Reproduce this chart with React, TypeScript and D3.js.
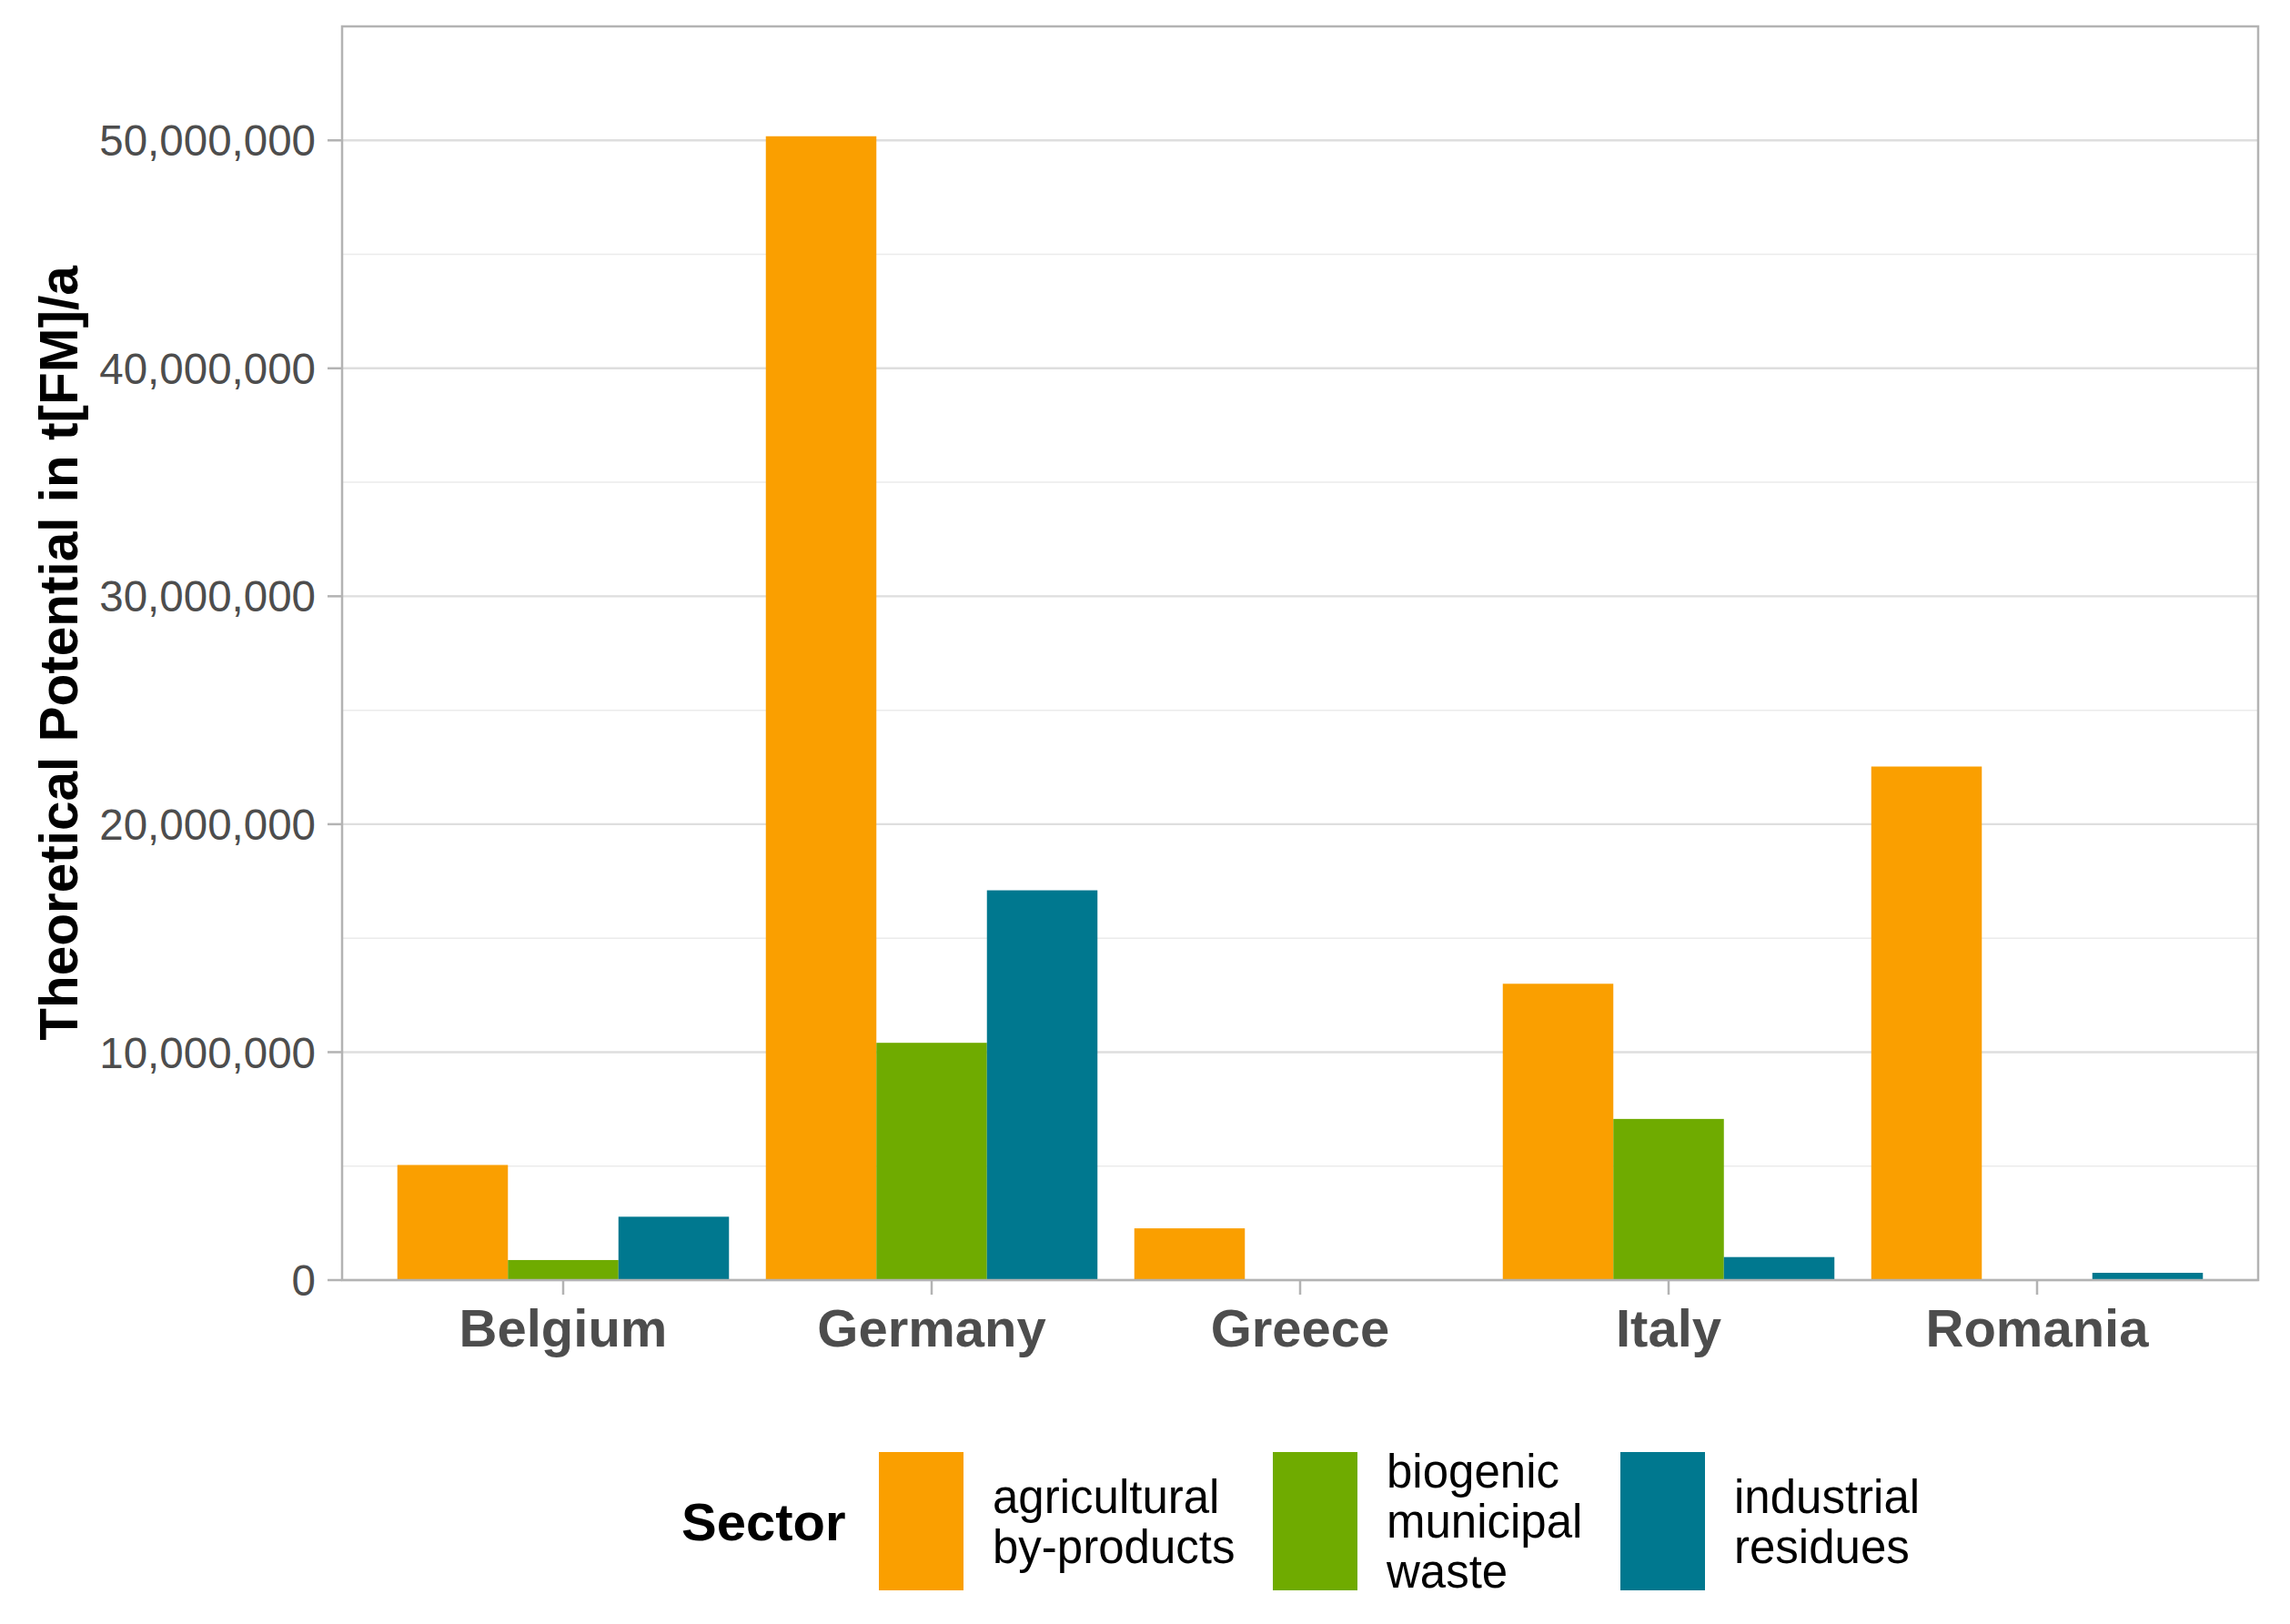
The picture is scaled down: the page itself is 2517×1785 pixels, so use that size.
import { useEffect } from "react"
import * as d3 from "d3"

// data
const countries = ["Belgium", "Germany", "Greece", "Italy", "Romania"]
const sectors = ["agricultural\nby-products", "biogenic\nmunicipal\nwaste", "industrial\nresidues"]
const agricultural = [5.05e6, 50.18e6, 2.27e6, 13.0e6, 22.53e6]
const municipal = [0.88e6, 10.41e6, 0.02e6, 7.07e6, 0]
const industrial = [2.78e6, 17.1e6, 0.02e6, 1.01e6, 0.32e6]
const majorTicks = [0, 10e6, 20e6, 30e6, 40e6, 50e6]
const minorTicks = [5e6, 15e6, 25e6, 35e6, 45e6]
const colors = ["#FA9F00", "#6FAB00", "#00788F"]

const W = 2517
const H = 1785
const FONT = "'Liberation Sans', Arial, Helvetica, sans-serif"

export default function App() {
  useEffect(() => {
    document.body.style.margin = "0"
  }, [])

  const panel = { left: 376, right: 2482, top: 29, bottom: 1407 }

  const x = d3
    .scaleBand<string>()
    .domain(countries)
    .range([panel.left, panel.right])
    .paddingInner(0.1)
    .paddingOuter(0.15)

  const xs = d3.scaleBand<number>().domain([0, 1, 2]).range([0, x.bandwidth()])

  const y = d3.scaleLinear().domain([0, 55e6]).range([panel.bottom, panel.top])

  const fmt = d3.format(",")
  const series = [agricultural, municipal, industrial]

  // legend geometry
  const keyTop = 1596
  const keyH = 152
  const keyW = 93
  const keyMid = keyTop + keyH / 2
  const legendX = [966, 1399, 1781]
  const lineH = 55

  return (
    <svg width={W} height={H} style={{ display: "block", background: "#fff" }} fontFamily={FONT}>
      {/* minor grid */}
      {minorTicks.map((t) => (
        <line key={"m" + t} x1={panel.left} x2={panel.right} y1={y(t)} y2={y(t)} stroke="#ebebeb" strokeWidth={1.5} />
      ))}
      {/* major grid */}
      {majorTicks.map((t) => (
        <line key={"g" + t} x1={panel.left} x2={panel.right} y1={y(t)} y2={y(t)} stroke="#dedede" strokeWidth={2.4} />
      ))}

      {/* bars */}
      {countries.map((c, i) => (
        <g key={c} transform={`translate(${x(c)},0)`}>
          {series.map((s, j) => (
            <rect
              key={j}
              x={xs(j)}
              y={y(s[i])}
              width={xs.bandwidth()}
              height={panel.bottom - y(s[i])}
              fill={colors[j]}
            />
          ))}
        </g>
      ))}

      {/* panel border */}
      <rect
        x={panel.left}
        y={panel.top}
        width={panel.right - panel.left}
        height={panel.bottom - panel.top}
        fill="none"
        stroke="#b3b3b3"
        strokeWidth={2.5}
      />

      {/* y axis */}
      {majorTicks.map((t) => (
        <g key={"y" + t}>
          <line x1={panel.left - 16} x2={panel.left} y1={y(t)} y2={y(t)} stroke="#b3b3b3" strokeWidth={2.5} />
          <text x={panel.left - 29} y={y(t)} dy="0.36em" textAnchor="end" fontSize={47.5} fill="#4d4d4d">
            {fmt(t)}
          </text>
        </g>
      ))}

      {/* x axis */}
      {countries.map((c) => {
        const cx = (x(c) ?? 0) + x.bandwidth() / 2
        return (
          <g key={"x" + c}>
            <line x1={cx} x2={cx} y1={panel.bottom} y2={panel.bottom + 16} stroke="#b3b3b3" strokeWidth={2.5} />
            <text x={cx} y={1480} textAnchor="middle" fontSize={58} fontWeight="bold" fill="#4d4d4d">
              {c}
            </text>
          </g>
        )
      })}

      {/* y title */}
      <text
        transform={`translate(64,${(panel.top + panel.bottom) / 2}) rotate(-90)`}
        dy="0.36em"
        textAnchor="middle"
        fontSize={58.5}
        fontWeight="bold"
        fill="#000"
      >
        Theoretical Potential in t[FM]/a
      </text>

      {/* legend */}
      <text x={749} y={keyMid} dy="0.36em" fontSize={58} fontWeight="bold" fill="#000">
        Sector
      </text>
      {sectors.map((s, j) => {
        const lines = s.split("\n")
        const first = keyMid - ((lines.length - 1) * lineH) / 2
        return (
          <g key={"l" + j}>
            <rect x={legendX[j]} y={keyTop} width={keyW} height={keyH} fill={colors[j]} />
            {lines.map((ln, k) => (
              <text key={k} x={legendX[j] + keyW + 32} y={first + k * lineH} dy="0.36em" fontSize={51} fill="#000">
                {ln}
              </text>
            ))}
          </g>
        )
      })}
    </svg>
  )
}
